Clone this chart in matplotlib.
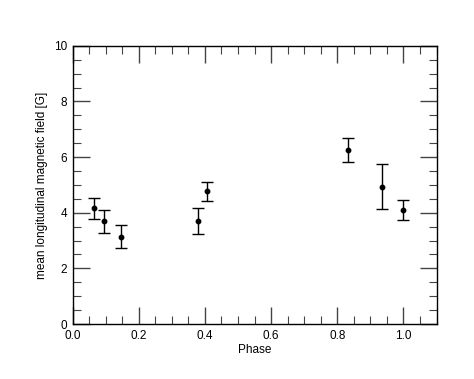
import numpy as np
import matplotlib
matplotlib.use("Agg")
import matplotlib.pyplot as plt
from matplotlib.ticker import MultipleLocator

plt.rcParams["font.family"] = ["Liberation Sans", "DejaVu Sans"]

phase = [0.066, 0.096, 0.145, 0.380, 0.407, 0.832, 0.934, 1.000]
field = [4.17, 3.69, 3.13, 3.70, 4.77, 6.25, 4.93, 4.10]
err_hi = [4.54, 4.11, 3.56, 4.16, 5.10, 6.68, 5.74, 4.47]
err_lo = [3.78, 3.27, 2.72, 3.25, 4.42, 5.83, 4.13, 3.73]

field = np.array(field)
yerr = [field - np.array(err_lo), np.array(err_hi) - field]

fig = plt.figure(figsize=(4.74, 3.79), dpi=100)
ax = fig.add_axes([0.153, 0.145, 0.768, 0.734])

ax.errorbar(phase, field, yerr=yerr, fmt="o", color="black", ms=3.2,
            ecolor="black", elinewidth=1, capsize=4, capthick=1)

ax.set_xlim(0, 1.1)
ax.set_ylim(0, 10)
ax.xaxis.set_major_locator(MultipleLocator(0.2))
ax.xaxis.set_minor_locator(MultipleLocator(0.05))
ax.yaxis.set_major_locator(MultipleLocator(2))
ax.yaxis.set_minor_locator(MultipleLocator(0.5))
ax.xaxis.set_major_formatter(plt.FuncFormatter(lambda v, p: f"{v:.1f}"))
ax.tick_params(which="both", direction="in", top=True, right=True,
               labelsize=8.5, pad=4, color="#444444")
ax.tick_params(which="major", length=12, width=1)
ax.tick_params(which="minor", length=6, width=0.8)
for s in ax.spines.values():
    s.set_linewidth(1)

ax.set_xlabel("Phase", fontsize=8.5, labelpad=2)
ax.set_ylabel("mean longitudinal magnetic field [G]", fontsize=8.5, labelpad=4)

fig.savefig("out.png", dpi=100)
